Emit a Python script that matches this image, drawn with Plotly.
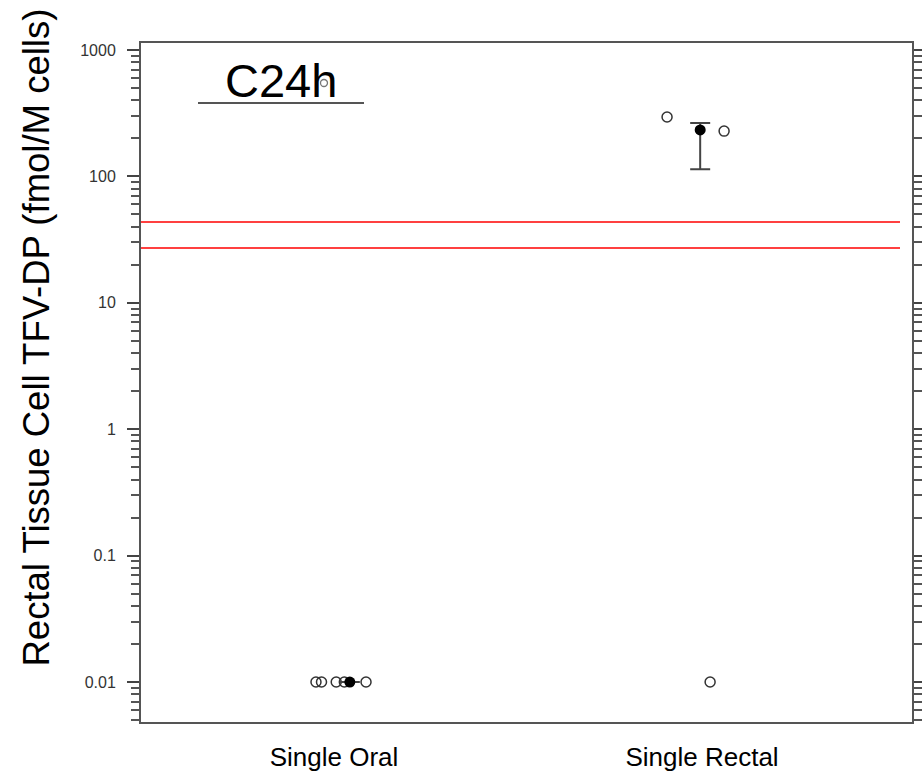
import plotly.graph_objects as go

# ---------------- data ----------------
categories = ["Single Oral", "Single Rectal"]
cat_pos = [1, 2]

# individual observations (x = jittered position, y = value)
oral_x = [0.951, 0.966, 1.006, 1.028, 1.087]
oral_y = [0.01, 0.01, 0.01, 0.01, 0.01]
rectal_x = [1.905, 2.022, 2.060]
rectal_y = [295, 0.01, 228]

# summary (mean/median with error bar)
summary_x = [1.043, 1.995]
summary_y = [0.01, 233]
summary_hi = [0.01, 264]
summary_lo = [0.01, 114]

# reference lines (red)
ref_lines = [43.6, 27.1]

tick_vals = [0.01, 0.1, 1, 10, 100, 1000]
tick_text = ["0.01", "0.1", "1", "10", "100", "1000"]
minor_vals = [m * 10 ** e for e in range(-3, 4) for m in range(2, 10)]

FONT = "Liberation Sans, Arial, sans-serif"

fig = go.Figure()

err_plus = [h - m for h, m in zip(summary_hi, summary_y)]
err_minus = [m - l for m, l in zip(summary_y, summary_lo)]

fig.add_trace(go.Scatter(
    x=oral_x + rectal_x, y=oral_y + rectal_y, mode="markers",
    marker=dict(symbol="circle-open", size=10, color="#333333",
                line=dict(width=1.5, color="#333333")),
    showlegend=False, hoverinfo="skip"))

fig.add_trace(go.Scatter(
    x=summary_x, y=summary_y, mode="markers",
    marker=dict(symbol="circle", size=11, color="black"),
    error_y=dict(type="data", symmetric=False, array=err_plus,
                 arrayminus=err_minus, color="#444444", thickness=2, width=10),
    showlegend=False, hoverinfo="skip"))

# red reference lines
for v in ref_lines:
    fig.add_shape(type="line", xref="paper", yref="y", x0=0, x1=(900 - 141) / 771,
                  y0=v, y1=v, line=dict(color="red", width=1.6))

# panel label "C24h" with underline
fig.add_annotation(text="C24h", xref="paper", yref="paper",
                   x=(280.5 - 141) / 771, y=(722 - 100) / 679, yanchor="bottom",
                   xanchor="center", showarrow=False,
                   font=dict(family=FONT, size=47, color="black"), yshift=-9)
fig.add_shape(type="line", xref="paper", yref="paper",
              x0=(198 - 141) / 771, x1=(364 - 141) / 771,
              y0=(722 - 103) / 679, y1=(722 - 103) / 679,
              line=dict(color="#555555", width=2))
fig.add_shape(type="circle", xref="paper", yref="paper",
              x0=(320.5 - 141) / 771, x1=(327.5 - 141) / 771,
              y0=(722 - 86.5) / 679, y1=(722 - 79.5) / 679,
              line=dict(color="#777777", width=1.3))

# y-axis title as rotated annotation
fig.add_annotation(text="Rectal Tissue Cell TFV-DP (fmol/M cells)",
                   xref="paper", yref="paper",
                   x=(36 - 141) / 771, y=(722 - 337.5) / 679,
                   xanchor="center", yanchor="middle", textangle=-90,
                   showarrow=False,
                   font=dict(family=FONT, size=36.5, color="black"))

fig.update_layout(
    width=922, height=780,
    margin=dict(l=141, r=10, t=43, b=58),
    paper_bgcolor="white", plot_bgcolor="white",
    font=dict(family=FONT, color="black"),
)

fig.update_xaxes(
    range=[0.4755, 2.5706], tickvals=cat_pos, ticktext=categories,
    ticks="", showgrid=False, zeroline=False, automargin=False,
    showline=True, linecolor="#555555", linewidth=2, mirror=True,
    tickfont=dict(family=FONT, size=26, color="black"),
    ticklabelstandoff=11,
)

fig.update_yaxes(
    type="log", range=[-2.316, 3.055], automargin=False,
    tickvals=tick_vals, ticktext=tick_text,
    ticks="outside", ticklen=12, tickwidth=1.5, tickcolor="#444444",
    minor=dict(tickvals=minor_vals, ticks="outside", ticklen=8, tickwidth=1.5,
               tickcolor="#555555", showgrid=False),
    showgrid=False, zeroline=False,
    showline=True, linecolor="#555555", linewidth=2, mirror="allticks",
    tickfont=dict(family=FONT, size=16, color="#333333"),
    ticklabelstandoff=8,
)

fig.write_html("out.html")
